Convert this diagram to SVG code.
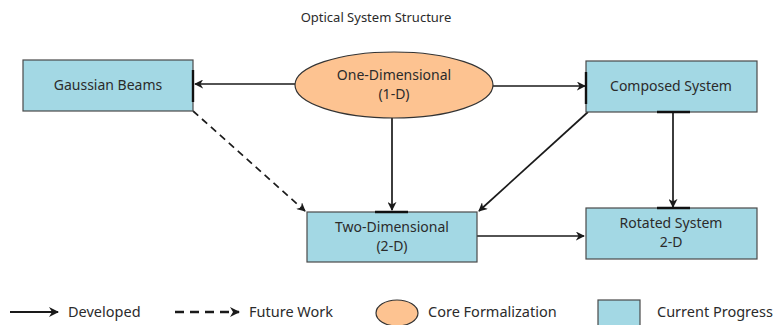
<svg xmlns="http://www.w3.org/2000/svg" width="775" height="325" viewBox="0 0 775 325">
  <style>
    text { font-family: "Noto Sans", "Open Sans", sans-serif; fill: #2b2b2b; }
    .lbl { font-size: 14px; text-anchor: middle; }
    .leg { font-size: 14.5px; }
    .box { fill: #a3d8e4; stroke: #4a4a4a; stroke-width: 1.2; }
    .core { fill: #fdc391; stroke: #333; stroke-width: 1.2; }
    .bar { stroke: #111; stroke-width: 2.4; }
    .edge { fill: none; stroke: #1a1a1a; stroke-width: 1.7; marker-end: url(#arr); }
    .dash { stroke-dasharray: 7 5; }
  </style>
  <defs>
    <marker id="arr" viewBox="0 0 10 10" refX="9" refY="5" markerWidth="9" markerHeight="9" orient="auto" markerUnits="userSpaceOnUse">
      <path d="M0,0 L10,5 L0,10 L3,5 z" fill="#1a1a1a"/>
    </marker>
    <marker id="arrL" viewBox="0 0 10 10" refX="9" refY="5" markerWidth="10" markerHeight="10" orient="auto" markerUnits="userSpaceOnUse">
      <path d="M0,0 L10,5 L0,10 L3,5 z" fill="#1a1a1a"/>
    </marker>
  </defs>

  <text x="376" y="22" text-anchor="middle" font-size="13">Optical System Structure</text>

  <g id="connectors">
    <path class="edge" d="M295,84 L195,84"/>
    <path class="edge" d="M493,86 L585,86"/>
    <path class="edge" d="M392,118 L392,210"/>
    <path class="edge" d="M588,112 L479,211"/>
    <path class="edge" d="M673,112 L673,207"/>
    <path class="edge" d="M477,236 L584,236"/>
    <path class="edge dash" d="M193,111 L305,211"/>
  </g>

  <g id="gaussian">
    <rect class="box" x="23" y="60" width="170" height="51"/>
    <line class="bar" x1="193" y1="70" x2="193" y2="102"/>
    <text class="lbl" x="108" y="90">Gaussian Beams</text>
  </g>

  <g id="one-d">
    <ellipse class="core" cx="394" cy="85" rx="99" ry="33"/>
    <text class="lbl" x="394" y="80">One-Dimensional</text>
    <text class="lbl" x="394" y="99">(1-D)</text>
  </g>

  <g id="composed">
    <rect class="box" x="586" y="61" width="171" height="51"/>
    <line class="bar" x1="586" y1="72" x2="586" y2="104"/>
    <line class="bar" x1="657" y1="112" x2="690" y2="112"/>
    <text class="lbl" x="671" y="91">Composed System</text>
  </g>

  <g id="two-d">
    <rect class="box" x="307" y="212" width="170" height="50"/>
    <line class="bar" x1="375" y1="212" x2="408" y2="212"/>
    <text class="lbl" x="392" y="232">Two-Dimensional</text>
    <text class="lbl" x="392" y="251">(2-D)</text>
  </g>

  <g id="rotated">
    <rect class="box" x="586" y="208" width="171" height="51"/>
    <line class="bar" x1="657" y1="208" x2="690" y2="208"/>
    <text class="lbl" x="671" y="228">Rotated System</text>
    <text class="lbl" x="671" y="247">2-D</text>
  </g>

  <g id="legend">
    <line x1="10" y1="312" x2="58" y2="312" stroke="#1a1a1a" stroke-width="2.2" marker-end="url(#arrL)"/>
    <text class="leg" x="68" y="317">Developed</text>
    <line x1="175" y1="312" x2="239" y2="312" stroke="#1a1a1a" stroke-width="2.4" stroke-dasharray="9 6" marker-end="url(#arrL)"/>
    <text class="leg" x="249" y="317">Future Work</text>
    <ellipse class="core" cx="397" cy="313" rx="21" ry="13"/>
    <text class="leg" x="428" y="317">Core Formalization</text>
    <rect class="box" x="598" y="300" width="42" height="26"/>
    <text class="leg" x="657" y="317">Current Progress</text>
  </g>
</svg>
